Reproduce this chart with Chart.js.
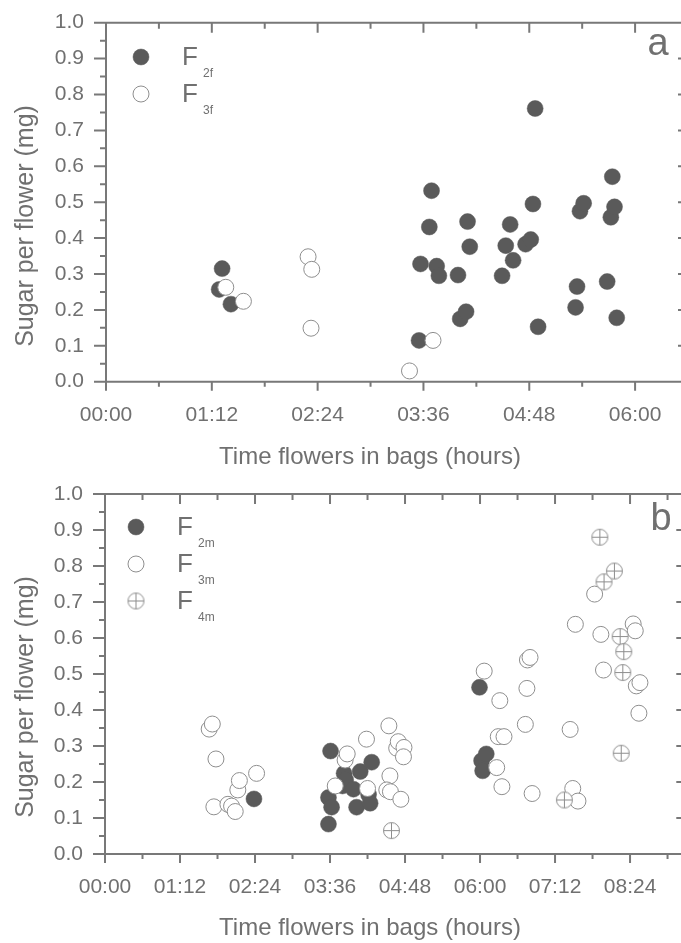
<!DOCTYPE html>
<html lang="en">
<head>
<meta charset="UTF-8">
<title>Sugar per flower</title>
<script src="https://cdn.jsdelivr.net/npm/chart.js"></script>
<style>
  body { margin: 0; overflow: hidden; background: #fff; }
  canvas { display: block; }
</style>
</head>
<body>
<canvas id="chartA" width="700" height="470"></canvas>
<canvas id="chartB" width="700" height="473"></canvas>
<script>
// time in bags is in minutes, sugar in mg per flower

// panel a
const f2fTime  = [77, 79, 85, 213, 214, 220, 221.5, 225, 226.5, 239.5, 241, 245, 246, 247.5,
                  269.5, 272, 275, 277, 285.5, 289, 290.5, 292, 294, 319.5, 320.5, 322.5, 325,
                  341, 343.5, 344.5, 346, 347.5];
const f2fSugar = [0.257, 0.315, 0.216, 0.115, 0.328, 0.431, 0.532, 0.322, 0.295, 0.297, 0.175, 0.195, 0.446, 0.376,
                  0.295, 0.379, 0.438, 0.338, 0.383, 0.396, 0.495, 0.761, 0.153, 0.207, 0.265, 0.475, 0.497,
                  0.279, 0.458, 0.571, 0.487, 0.178];
const f3fTime  = [81.5, 93.5, 137.5, 140, 139.5, 206.5, 222.5];
const f3fSugar = [0.263, 0.224, 0.348, 0.313, 0.149, 0.030, 0.115];

// panel b
const f2mTime  = [143, 214.5, 214.5, 216.5, 217.5, 228, 229.5, 231, 238.5, 241.5, 245, 253, 254.5, 256,
                  359.5, 361.5, 362.5, 366];
const f2mSugar = [0.153, 0.083, 0.157, 0.286, 0.130, 0.189, 0.224, 0.206, 0.180, 0.130, 0.229, 0.165, 0.141, 0.255,
                  0.463, 0.259, 0.231, 0.278];
const f3mTime  = [100, 103, 106.5, 104.5, 118, 121.5, 125, 127.5, 129, 145.5,
                  221, 230.5, 232.5, 251, 252, 272.5, 273.5, 270.5, 274, 280, 281.5, 287, 286.5, 284,
                  364, 379, 376, 381, 377.5, 383, 403.5, 405, 405.5, 408, 410, 446.5, 449, 454, 451.5,
                  470, 476, 478.5, 507, 509, 510, 513.5, 512.5];
const f3mSugar = [0.347, 0.361, 0.264, 0.131, 0.138, 0.133, 0.118, 0.178, 0.204, 0.224,
                  0.189, 0.261, 0.278, 0.319, 0.182, 0.356, 0.217, 0.178, 0.173, 0.294, 0.312, 0.296, 0.270, 0.152,
                  0.508, 0.426, 0.240, 0.187, 0.326, 0.326, 0.360, 0.460, 0.539, 0.546, 0.168, 0.346, 0.182, 0.147, 0.638,
                  0.722, 0.610, 0.511, 0.639, 0.620, 0.467, 0.476, 0.391];
const f4mTime  = [275, 441, 475, 479, 489, 494.5, 498, 497, 495.5];
const f4mSugar = [0.065, 0.150, 0.880, 0.756, 0.786, 0.604, 0.562, 0.504, 0.280];

// axis labels
const timeLabelsA = ['00:00', '01:12', '02:24', '03:36', '04:48', '06:00'];
const timeLabelsB = ['00:00', '01:12', '02:24', '03:36', '04:48', '06:00', '07:12', '08:24'];
const sugarLabels = ['0.0', '0.1', '0.2', '0.3', '0.4', '0.5', '0.6', '0.7', '0.8', '0.9', '1.0'];

const INK = '#707070';
const AXIS = '#787878';
const DARK = '#5a5a5a';
const EDGE = '#8e8e8e';
const FONT = '"Liberation Sans", Arial, sans-serif';
const R = 8;

Chart.defaults.font.family = FONT;
Chart.defaults.color = INK;

const pts = (xs, ys) => xs.map((x, i) => ({ x: x, y: ys[i] }));

function circledPlus(r) {
    const s = Math.ceil(r * 2 + 3);
    const c = document.createElement('canvas');
    c.width = c.height = s;
    const g = c.getContext('2d');
    const m = s / 2;
    g.strokeStyle = EDGE;
    g.fillStyle = '#fff';
    g.lineWidth = 1;
    g.beginPath();
    g.arc(m, m, r, 0, Math.PI * 2);
    g.fill();
    g.stroke();
    g.beginPath();
    g.moveTo(m - r, m); g.lineTo(m + r, m);
    g.moveTo(m, m - r); g.lineTo(m, m + r);
    g.stroke();
    return c;
}

const filledSet = (data) => ({
    data: data, pointRadius: R, pointHoverRadius: R,
    backgroundColor: DARK, borderColor: DARK, borderWidth: 0.5, order: 3
});
const openSet = (data) => ({
    data: data, pointRadius: R, pointHoverRadius: R,
    backgroundColor: '#fff', borderColor: EDGE, borderWidth: 1, order: 2
});

// frame on all four sides, ticks out on left/bottom, in on top/right
const frame = {
    id: 'frame',
    beforeDatasetsDraw(chart) {
        const { ctx, chartArea: a, scales: { x, y } } = chart;
        ctx.save();
        ctx.strokeStyle = AXIS;
        ctx.lineWidth = 2;
        ctx.beginPath();
        ctx.rect(a.left, a.top, a.right - a.left, a.bottom - a.top);
        x.ticks.forEach(t => {
            const px = x.getPixelForValue(t.value);
            const major = Math.round(t.value) % 72 === 0;
            ctx.moveTo(px, a.bottom); ctx.lineTo(px, a.bottom + (major ? 9 : 5));
            ctx.moveTo(px, a.top); ctx.lineTo(px, a.top + (major ? 10 : 6));
        });
        y.ticks.forEach(t => {
            const py = y.getPixelForValue(t.value);
            const major = Math.abs(t.value * 10 - Math.round(t.value * 10)) < 1e-6;
            ctx.moveTo(a.left, py); ctx.lineTo(a.left - (major ? 12 : 6), py);
            ctx.moveTo(a.right, py); ctx.lineTo(a.right - (major ? 10 : 5), py);
        });
        ctx.stroke();
        ctx.restore();
    }
};

// legend with subscripts, panel letter, axis titles
const panel = {
    id: 'panel',
    afterDraw(chart, args, o) {
        const ctx = chart.ctx;
        ctx.save();
        ctx.fillStyle = INK;
        ctx.textBaseline = 'middle';

        chart.data.datasets.forEach((ds, i) => {
            const ly = o.legendY[i];
            ctx.fillStyle = ds.backgroundColor;
            ctx.strokeStyle = ds.borderColor;
            ctx.lineWidth = ds.borderWidth;
            Chart.helpers.drawPoint(ctx, { pointStyle: ds.pointStyle || 'circle', radius: R, borderWidth: ds.borderWidth, rotation: 0 }, o.legendX, ly);
            ctx.fillStyle = INK;
            ctx.textAlign = 'left';
            ctx.font = '26px ' + FONT;
            ctx.fillText('F', o.legendX + 41, ly + 1);
            ctx.font = '12px ' + FONT;
            ctx.fillText(o.subs[i], o.legendX + 62, ly + 17);
        });

        ctx.textAlign = 'center';
        ctx.font = '38px ' + FONT;
        ctx.fillText(o.letter, o.letterX, o.letterY);

        ctx.font = '24px ' + FONT;
        ctx.fillText('Time flowers in bags (hours)', o.xTitleX, o.xTitleY);

        ctx.translate(o.yTitleX, o.yTitleY);
        ctx.rotate(-Math.PI / 2);
        ctx.font = '25px ' + FONT;
        ctx.fillText('Sugar per flower (mg)', 0, 0);
        ctx.restore();
    }
};

function makeOptions(maxTime, timeLabels, yAxisWidth, xAxisHeight, padTop, padRight, panelOpts) {
    return {
        responsive: false,
        animation: false,
        events: [],
        layout: { padding: { top: padTop, right: padRight, bottom: 0, left: 0 } },
        plugins: { legend: { display: false }, tooltip: { enabled: false }, panel: panelOpts },
        scales: {
            x: {
                type: 'linear', min: 0, max: maxTime,
                grid: { display: false }, border: { display: false },
                afterFit: s => { s.height = xAxisHeight; s.paddingLeft = 0; s.paddingRight = 0; },
                ticks: {
                    stepSize: 36, includeBounds: false, autoSkip: false, maxRotation: 0, padding: 13,
                    font: { size: 21 }, color: INK,
                    callback: v => (Math.round(v) % 72 === 0 ? (timeLabels[Math.round(v) / 72] || '') : '')
                }
            },
            y: {
                min: 0, max: 1,
                grid: { display: false }, border: { display: false },
                afterFit: s => { s.width = yAxisWidth; s.paddingTop = 0; s.paddingBottom = 0; },
                ticks: {
                    stepSize: 0.05, padding: 14, autoSkip: false,
                    font: { size: 21 }, color: INK,
                    callback: v => {
                        const k = Math.round(v * 10);
                        return Math.abs(v * 10 - k) < 1e-6 ? sugarLabels[k] : '';
                    }
                }
            }
        }
    };
}

new Chart(document.getElementById('chartA'), {
    type: 'scatter',
    data: {
        datasets: [
            Object.assign(filledSet(pts(f2fTime, f2fSugar)), { label: 'F2f' }),
            Object.assign(openSet(pts(f3fTime, f3fSugar)), { label: 'F3f' })
        ]
    },
    options: makeOptions(396, timeLabelsA, 106, 88.3, 22.7, 12, {
        legendX: 141, legendY: [57, 94], subs: ['2f', '3f'],
        letter: 'a', letterX: 658, letterY: 45,
        xTitleX: 370, xTitleY: 457, yTitleX: 26, yTitleY: 226
    }),
    plugins: [frame, panel]
});

new Chart(document.getElementById('chartB'), {
    type: 'scatter',
    data: {
        datasets: [
            Object.assign(filledSet(pts(f2mTime, f2mSugar)), { label: 'F2m' }),
            Object.assign(openSet(pts(f3mTime, f3mSugar)), { label: 'F3m' }),
            Object.assign(openSet(pts(f4mTime, f4mSugar)), { label: 'F4m', pointStyle: circledPlus(R), order: 1 })
        ]
    },
    options: makeOptions(558, timeLabelsB, 105, 89, 24, 13.7, {
        legendX: 136, legendY: [57, 94, 131], subs: ['2m', '3m', '4m'],
        letter: 'b', letterX: 661, letterY: 50,
        xTitleX: 370, xTitleY: 458, yTitleX: 26, yTitleY: 227
    }),
    plugins: [frame, panel]
});
</script>
</body>
</html>
